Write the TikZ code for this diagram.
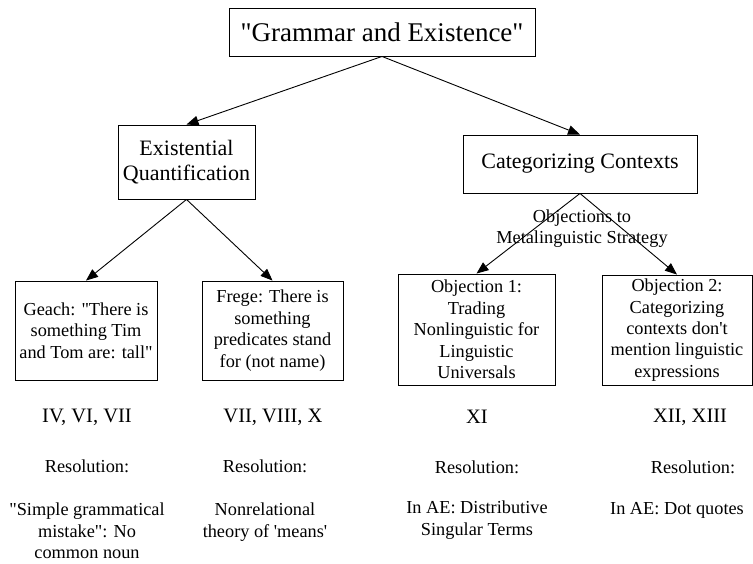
\documentclass[tikz,border=0pt]{standalone}
\usepackage{fontspec}
\setmainfont{Liberation Serif}[Ligatures=TeXOff]
\usetikzlibrary{positioning, arrows.meta}
\newcommand{\rootsize}{\fontsize{27}{30}\selectfont}
\newcommand{\midsize}{\fontsize{22}{25}\selectfont}
\newcommand{\boxsize}{\fontsize{18.3}{21.4}\selectfont}
\newcommand{\numsize}{\fontsize{20.5}{23}\selectfont}
\tikzset{
  topic/.style={
    draw, line width=0.9pt, align=center, inner sep=2pt
  },
  link/.style={draw, line width=0.9pt, -{Triangle[length=12pt,width=9.5pt]}},
  note/.style={align=center, inner sep=0pt, font=\boxsize},
  numerals/.style={inner sep=0pt, font=\numsize},
}
\begin{document}
\begin{tikzpicture}[x=1pt, y=1pt]
  \useasboundingbox (0,0) rectangle (753,-563);

  % topic boxes
  \node[topic, font=\rootsize, minimum width=306pt, minimum height=48pt] (GE) at (382,-32) {"Grammar and Existence"};
  \node[topic, font=\midsize, minimum width=137pt, minimum height=74pt] (EQ) at (186.5,-162) {Existential\\Quantification};
  \node[topic, font=\midsize, minimum width=234pt, minimum height=58pt] (CC) at (580,-164) {Categorizing Contexts};
  \node[topic, font=\boxsize, minimum width=142pt, minimum height=99pt] (Geach) at (86,-330.5) {Geach: "There is\\something Tim\\and Tom are: tall"};
  \node[topic, font=\boxsize, minimum width=141pt, minimum height=99pt] (Frege) at (272.5,-330.5) {Frege: There is\\something\\predicates stand\\for (not name)};
  \node[topic, font=\boxsize, minimum width=157pt, minimum height=111pt] (Obj1) at (476.5,-329.5) {Objection 1:\\Trading\\Nonlinguistic for\\Linguistic\\Universals};
  \node[topic, font=\boxsize, minimum width=150pt, minimum height=110pt] (Obj2) at (677,-330) {Objection 2:\\Categorizing\\contexts don't\\mention linguistic\\expressions};

  \node[note] (OMS) at (582,-228.5) {Objections to\\Metalinguistic Strategy};

  \draw[link] (GE.south) -- (EQ.north);
  \draw[link] (GE.south) -- (CC.north);
  \draw[link] (EQ.south) -- (Geach.north);
  \draw[link] (EQ.south) -- (Frege.north);
  \draw[link] (CC.south) -- (Obj1.north);
  \draw[link] (CC.south) -- (Obj2.north);

  % sections
  \node[numerals] (secGeach) at (87,-417) {IV, VI, VII};
  \node[numerals] (secFrege) at (273,-417) {VII, VIII, X};
  \node[numerals] (secObj1) at (477,-417) {XI};
  \node[numerals] (secObj2) at (690,-417) {XII, XIII};

  % resolutions
  \node[note] (resGeach) at (87,-466) {Resolution:};
  \node[note] (resFrege) at (265,-466) {Resolution:};
  \node[note] (resObj1) at (477,-467) {Resolution:};
  \node[note] (resObj2) at (693,-467) {Resolution:};

  \node[note, anchor=north] (ansGeach) at (87,-503) {"Simple grammatical\\mistake": No\\common noun};
  \node[note, anchor=north] (ansFrege) at (265,-503) {Nonrelational\\theory of 'means'};
  \node[note, anchor=north] (ansObj1) at (477,-501) {In AE: Distributive\\Singular Terms};
  \node[note, anchor=north] (ansObj2) at (677,-502) {In AE: Dot quotes};
\end{tikzpicture}
\end{document}
